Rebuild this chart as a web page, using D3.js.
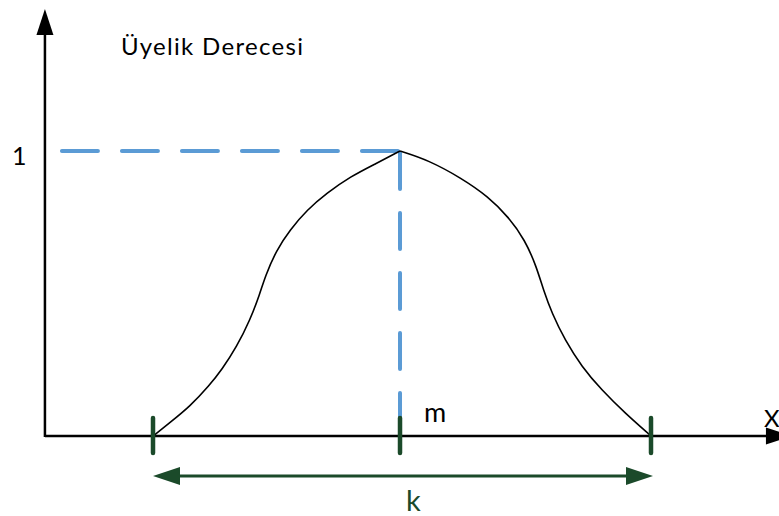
<!DOCTYPE html>
<html>
<head>
<meta charset="utf-8">
<script src="https://cdn.jsdelivr.net/npm/d3@7"></script>
<style>
  body { margin: 0; background: #fff; }
  svg { display: block; font-family: Lato, "Open Sans", sans-serif; }
</style>
</head>
<body>
<div id="chart"></div>
<script>
// Membership curve (x: 0 = left foot, 1 = right foot; y: degree 0..1).
const riseX = [0, 0.034, 0.074, 0.114, 0.138, 0.168, 0.195, 0.215, 0.225, 0.248, 0.275, 0.309, 0.349, 0.396, 0.449, 0.496];
const riseY = [0, 0.047, 0.103, 0.179, 0.232, 0.313, 0.407, 0.501, 0.559, 0.653, 0.723, 0.793, 0.852, 0.910, 0.957, 1.0];
const fallX = [0.496, 0.553, 0.620, 0.673, 0.713, 0.747, 0.770, 0.784, 0.801, 0.827, 0.861, 0.901, 0.948, 1.0];
const fallY = [1.0, 0.968, 0.904, 0.840, 0.770, 0.688, 0.594, 0.512, 0.431, 0.337, 0.243, 0.161, 0.080, 0];

// Marked points on the x axis and the peak.
const tickValues = [0, 0.496, 1];
const peakX = 0.496;
const peakY = 1;
const spanK = [0, 1];

// Labels.
const yTitle = 'Üyelik Derecesi';
const yTickLabel = '1';
const centerLabel = 'm';
const xTitle = 'X';
const spanLabel = 'k';

const width = 779;
const height = 516;

const x = d3.scaleLinear().domain([0, 1]).range([153, 651]);
const y = d3.scaleLinear().domain([0, 1]).range([436, 151]);
const xMin = -0.217, xMax = 1.283;
const yMax = 1.498;

const blue = '#5b9bd5';
const green = '#1b4a2a';

const svg = d3.select('#chart')
    .append('svg')
        .attr('width', width)
        .attr('height', height)
        .attr('viewBox', `0 0 ${width} ${height}`);

// Blue dashed guides to the peak.
svg.append('line')
    .attr('x1', x(xMin) + 17).attr('x2', x(peakX))
    .attr('y1', y(peakY)).attr('y2', y(peakY))
    .attr('stroke', blue).attr('stroke-width', 4)
    .attr('stroke-dasharray', '36 24').attr('stroke-linecap', 'round');
svg.append('line')
    .attr('x1', x(peakX)).attr('x2', x(peakX))
    .attr('y1', y(peakY) + 2).attr('y2', y(0) - 18)
    .attr('stroke', blue).attr('stroke-width', 4)
    .attr('stroke-dasharray', '36 24').attr('stroke-linecap', 'round');

// Axes with arrowheads.
svg.append('line')
    .attr('x1', x(xMin)).attr('x2', x(xMax) - 24)
    .attr('y1', y(0)).attr('y2', y(0))
    .attr('stroke', '#000').attr('stroke-width', 2.5);
svg.append('line')
    .attr('x1', x(xMin)).attr('x2', x(xMin))
    .attr('y1', y(0) + 1).attr('y2', y(yMax) + 24)
    .attr('stroke', '#000').attr('stroke-width', 2.5);
svg.append('path')
    .attr('d', `M${x(xMin)},${y(yMax)} L${x(xMin) - 8.5},${y(yMax) + 26} L${x(xMin) + 8.5},${y(yMax) + 26} Z`)
    .attr('fill', '#000');
svg.append('path')
    .attr('d', `M${x(xMax)},${y(0)} L${x(xMax) - 26},${y(0) - 8.5} L${x(xMax) - 26},${y(0) + 8.5} Z`)
    .attr('fill', '#000');

// The curve: two smoothed halves meeting in a point at the peak.
const line = d3.line()
    .x(d => x(d[0]))
    .y(d => y(d[1]))
    .curve(d3.curveBasis);
[[riseX, riseY], [fallX, fallY]].forEach(([xs, ys]) => {
    svg.append('path')
        .datum(d3.zip(xs, ys))
        .attr('d', line)
        .attr('fill', 'none')
        .attr('stroke', '#000')
        .attr('stroke-width', 1.6);
});

// Green ticks on the x axis.
svg.selectAll('line.tick')
    .data(tickValues)
    .enter()
    .append('line')
        .attr('class', 'tick')
        .attr('x1', d => x(d)).attr('x2', d => x(d))
        .attr('y1', y(0) - 18).attr('y2', y(0) + 17)
        .attr('stroke', green).attr('stroke-width', 4.5)
        .attr('stroke-linecap', 'round');

// Double arrow for k.
const ky = y(0) + 40;
svg.append('line')
    .attr('x1', x(spanK[0]) + 20).attr('x2', x(spanK[1]) - 20)
    .attr('y1', ky).attr('y2', ky)
    .attr('stroke', green).attr('stroke-width', 3);
svg.append('path')
    .attr('d', `M${x(spanK[0])},${ky} L${x(spanK[0]) + 27},${ky - 9} L${x(spanK[0]) + 27},${ky + 9} Z`)
    .attr('fill', green);
svg.append('path')
    .attr('d', `M${x(spanK[1]) + 2},${ky} L${x(spanK[1]) - 25},${ky - 9} L${x(spanK[1]) - 25},${ky + 9} Z`)
    .attr('fill', green);

// Texts.
svg.append('text')
    .attr('x', 121).attr('y', 55)
    .style('font-size', '24px')
    .style('letter-spacing', '1.3px')
    .text(yTitle);
svg.append('text')
    .attr('x', 12).attr('y', 165)
    .style('font-size', '25px')
    .text(yTickLabel);
svg.append('text')
    .attr('x', 424).attr('y', 422)
    .style('font-size', '27px')
    .text(centerLabel);
svg.append('text')
    .attr('x', 764).attr('y', 427)
    .style('font-size', '24px')
    .text(xTitle);
svg.append('text')
    .attr('x', 406).attr('y', 511)
    .style('font-size', '29px')
    .attr('fill', green)
    .text(spanLabel);
</script>
</body>
</html>
